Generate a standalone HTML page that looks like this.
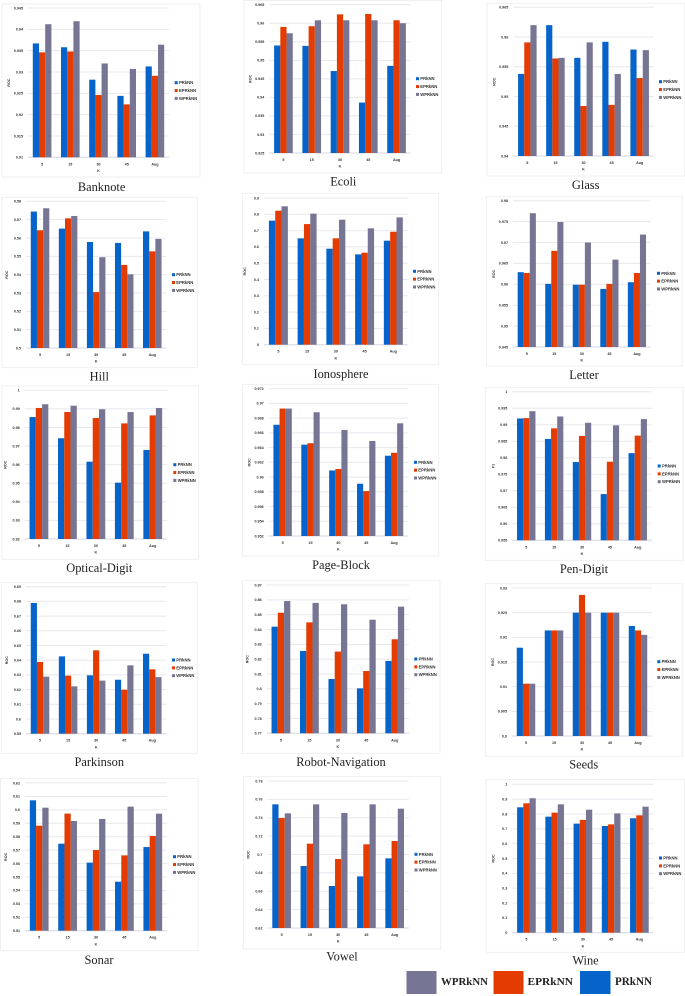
<!DOCTYPE html>
<html lang="en">
<head>
<meta charset="utf-8">
<title>Bar charts of ROC by K for 15 datasets</title>
<style>
html,body{margin:0;padding:0;background:#fff;width:685px;height:996px;overflow:hidden}
#figure{display:block;filter:blur(0.35px)}
</style>
</head>
<body>
<svg id="figure" xmlns="http://www.w3.org/2000/svg" width="685" height="996" viewBox="0 0 685 996">
  <g>
    <rect x="406.5" y="971" width="30" height="23" fill="#767593"/>
    <text x="441" y="985" font-family="'Liberation Serif',serif" font-weight="700" font-size="11" textLength="47" lengthAdjust="spacingAndGlyphs" fill="#222">WPRkNN</text>
    <rect x="493.5" y="971" width="30" height="23" fill="#e33b00"/>
    <text x="527.5" y="985" font-family="'Liberation Serif',serif" font-weight="700" font-size="11" textLength="45.5" lengthAdjust="spacingAndGlyphs" fill="#222">EPRkNN</text>
    <rect x="580" y="971" width="30.5" height="23" fill="#0563c9"/>
    <text x="615" y="985" font-family="'Liberation Serif',serif" font-weight="700" font-size="12" textLength="37" lengthAdjust="spacingAndGlyphs" fill="#222">PRkNN</text>
  </g>
</svg>
<script>
const categories = ['5', '15', '30', '45', 'Aug'];
const seriesNames = ['PRkNN', 'EPRkNN', 'WPRkNN'];

const banknoteTicks = ['0.945', '0.94', '0.935', '0.93', '0.925', '0.92', '0.915', '0.91'];
const banknotePR = [0.9367, 0.9358, 0.9282, 0.9244, 0.9313];
const banknoteEP = [0.9346, 0.9348, 0.9246, 0.9224, 0.9291];
const banknoteWP = [0.9412, 0.9419, 0.9320, 0.9307, 0.9364];

const ecoliTicks = ['0.965', '0.96', '0.955', '0.95', '0.945', '0.94', '0.935', '0.93', '0.925'];
const ecoliPR = [0.9540, 0.9539, 0.9471, 0.9386, 0.9485];
const ecoliEP = [0.9590, 0.9592, 0.9624, 0.9625, 0.9608];
const ecoliWP = [0.9573, 0.9608, 0.9608, 0.9608, 0.9600];

const glassTicks = ['0.965', '0.96', '0.955', '0.95', '0.945', '0.94'];
const glassPR = [0.9538, 0.9620, 0.9565, 0.9592, 0.9579];
const glassEP = [0.9591, 0.9564, 0.9484, 0.9486, 0.9531];
const glassWP = [0.9620, 0.9565, 0.9591, 0.9538, 0.9578];

const hillTicks = ['0.58', '0.57', '0.56', '0.55', '0.54', '0.53', '0.52', '0.51', '0.5'];
const hillPR = [0.5744, 0.5651, 0.5578, 0.5573, 0.5636];
const hillEP = [0.5642, 0.5707, 0.5305, 0.5453, 0.5527];
const hillWP = [0.5762, 0.5720, 0.5495, 0.5402, 0.5595];

const ionosphereTicks = ['0.9', '0.8', '0.7', '0.6', '0.5', '0.4', '0.3', '0.2', '0.1', '0'];
const ionospherePR = [0.761, 0.6525, 0.589, 0.554, 0.638];
const ionosphereEP = [0.822, 0.74, 0.6525, 0.5645, 0.693];
const ionosphereWP = [0.849, 0.804, 0.767, 0.714, 0.781];

const letterTicks = ['0.98', '0.975', '0.97', '0.965', '0.96', '0.955', '0.95', '0.945'];
const letterPR = [0.9629, 0.9601, 0.9599, 0.9589, 0.9605];
const letterEP = [0.9627, 0.9680, 0.9599, 0.9601, 0.9627];
const letterWP = [0.9770, 0.9749, 0.9700, 0.9659, 0.9719];

const opticalTicks = ['1', '0.99', '0.98', '0.97', '0.96', '0.95', '0.94', '0.93', '0.92'];
const opticalPR = [0.9856, 0.9742, 0.9616, 0.9503, 0.9679];
const opticalEP = [0.9905, 0.9883, 0.9851, 0.9822, 0.9865];
const opticalWP = [0.9925, 0.9917, 0.9898, 0.9883, 0.9905];

const pageBlockTicks = ['0.972', '0.97', '0.968', '0.966', '0.964', '0.962', '0.96', '0.958', '0.956', '0.954', '0.952'];
const pageBlockPR = [0.9671, 0.9644, 0.9609, 0.9591, 0.9629];
const pageBlockEP = [0.9693, 0.9646, 0.9611, 0.9581, 0.9633];
const pageBlockWP = [0.9693, 0.9688, 0.9664, 0.9649, 0.9673];

const penDigitTicks = ['1', '0.995', '0.99', '0.985', '0.98', '0.975', '0.97', '0.965', '0.96', '0.955'];
const penDigitPR = [0.9919, 0.9857, 0.9787, 0.9690, 0.9814];
const penDigitEP = [0.9920, 0.9889, 0.9866, 0.9788, 0.9867];
const penDigitWP = [0.9941, 0.9925, 0.9906, 0.9898, 0.9917];

const parkinsonTicks = ['0.69', '0.68', '0.67', '0.66', '0.65', '0.64', '0.63', '0.62', '0.61', '0.6', '0.59'];
const parkinsonPR = [0.6789, 0.6426, 0.6297, 0.6267, 0.6444];
const parkinsonEP = [0.6388, 0.6295, 0.6467, 0.6199, 0.6338];
const parkinsonWP = [0.6288, 0.6222, 0.6261, 0.6365, 0.6285];

const robotTicks = ['0.87', '0.86', '0.85', '0.84', '0.83', '0.82', '0.81', '0.8', '0.79', '0.78', '0.77'];
const robotPR = [0.8419, 0.8255, 0.8066, 0.8003, 0.8188];
const robotEP = [0.8513, 0.8448, 0.8251, 0.8120, 0.8334];
const robotWP = [0.8592, 0.8579, 0.8570, 0.8466, 0.8554];

const seedsTicks = ['0.93', '0.925', '0.92', '0.915', '0.91', '0.905', '0.9'];
const seedsPR = [0.9179, 0.9214, 0.9250, 0.9250, 0.9223];
const seedsEP = [0.9106, 0.9214, 0.9286, 0.9250, 0.9214];
const seedsWP = [0.9106, 0.9214, 0.9250, 0.9250, 0.9205];

const sonarTicks = ['0.62', '0.61', '0.6', '0.59', '0.58', '0.57', '0.56', '0.55', '0.54', '0.53', '0.52', '0.51'];
const sonarPR = [0.6071, 0.5748, 0.5607, 0.5465, 0.5723];
const sonarEP = [0.5882, 0.5972, 0.5701, 0.5661, 0.5805];
const sonarWP = [0.6016, 0.5917, 0.5932, 0.6024, 0.5972];

const vowelTicks = ['0.78', '0.76', '0.74', '0.72', '0.7', '0.68', '0.66', '0.64', '0.62'];
const vowelPR = [0.7546, 0.6875, 0.6657, 0.6762, 0.6958];
const vowelEP = [0.7397, 0.7118, 0.6951, 0.7111, 0.7147];
const vowelWP = [0.7448, 0.7546, 0.7452, 0.7546, 0.7499];

const wineTicks = ['1', '0.9', '0.8', '0.7', '0.6', '0.5', '0.4', '0.3', '0.2', '0.1', '0'];
const winePR = [0.845, 0.782, 0.735, 0.719, 0.771];
const wineEP = [0.872, 0.809, 0.76, 0.73, 0.791];
const wineWP = [0.906, 0.865, 0.829, 0.804, 0.849];

const seriesColors = ['#0563c9', '#e33b00', '#767593'];

const panels = [
  {name: 'Banknote', ticks: banknoteTicks, series: [banknotePR, banknoteEP, banknoteWP], yTitle: 'ROC', frame: [2, 4, 200, 177], plot: [28, 169, 8, 157.3], legend: [174.7, 82.7], title: [101.6, 191]},
  {name: 'Ecoli', ticks: ecoliTicks, series: [ecoliPR, ecoliEP, ecoliWP], yTitle: 'ROC', frame: [244, 0.5, 441.7, 173], plot: [269.3, 410.7, 4.7, 153], legend: [416, 78.7], title: [343.3, 185.5]},
  {name: 'Glass', ticks: glassTicks, series: [glassPR, glassEP, glassWP], yTitle: 'ROC', frame: [487, 3.3, 684.7, 176], plot: [513.3, 653.7, 7.3, 156], legend: [659, 81.7], title: [585.7, 189]},
  {name: 'Hill', ticks: hillTicks, series: [hillPR, hillEP, hillWP], yTitle: 'ROC', frame: [2, 197.3, 197.3, 367.7], plot: [26, 166.3, 201.3, 348], legend: [172, 274.7], title: [99.3, 380.5]},
  {name: 'Ionosphere', ticks: ionosphereTicks, series: [ionospherePR, ionosphereEP, ionosphereWP], yTitle: 'ROC', frame: [242.3, 193.3, 438.7, 364.7], plot: [264, 407.7, 198, 344.7], legend: [413, 271.3], title: [341, 378]},
  {name: 'Letter', ticks: letterTicks, series: [letterPR, letterEP, letterWP], yTitle: 'ROC', frame: [486.3, 196.7, 682, 366], plot: [513, 650.7, 200.7, 347], legend: [657, 273.3], title: [584, 379]},
  {name: 'Optical-Digit', ticks: opticalTicks, series: [opticalPR, opticalEP, opticalWP], yTitle: 'ROC', frame: [2, 386, 198.7, 559.3], plot: [24.7, 167, 390.3, 539], legend: [173.3, 464.7], title: [99.3, 572]},
  {name: 'Page-Block', ticks: pageBlockTicks, series: [pageBlockPR, pageBlockEP, pageBlockWP], yTitle: 'ROC', frame: [242.3, 384.3, 438.7, 556], plot: [268.7, 408, 388.7, 536], legend: [414, 462.3], title: [341, 569]},
  {name: 'Pen-Digit', ticks: penDigitTicks, series: [penDigitPR, penDigitEP, penDigitWP], yTitle: 'F1', frame: [485.3, 387.3, 683, 560.3], plot: [512.3, 651.7, 391.7, 540.3], legend: [657.7, 466], title: [584, 573]},
  {name: 'Parkinson', ticks: parkinsonTicks, series: [parkinsonPR, parkinsonEP, parkinsonWP], yTitle: 'ROC', frame: [1.7, 582.7, 197.3, 753.3], plot: [26, 166.3, 586.7, 733.7], legend: [172, 660], title: [99.3, 766]},
  {name: 'Robot-Navigation', ticks: robotTicks, series: [robotPR, robotEP, robotWP], yTitle: 'ROC', frame: [242.3, 580.3, 440, 753.3], plot: [266.7, 409, 585, 733.3], legend: [414.3, 659], title: [341, 766]},
  {name: 'Seeds', ticks: seedsTicks, series: [seedsPR, seedsEP, seedsWP], yTitle: 'ROC', frame: [485.3, 583.7, 682.7, 756.3], plot: [512, 652, 588, 736], legend: [657.3, 661.7], title: [583.7, 768.5]},
  {name: 'Sonar', ticks: sonarTicks, series: [sonarPR, sonarEP, sonarWP], yTitle: 'ROC', frame: [0.5, 778.3, 198, 950.7], plot: [25, 167, 783, 930.7], legend: [173, 856.7], title: [99, 964]},
  {name: 'Vowel', ticks: vowelTicks, series: [vowelPR, vowelEP, vowelWP], yTitle: 'ROC', frame: [243.4, 776.7, 440.8, 949], plot: [267.5, 408.8, 781, 928], legend: [414.5, 854.3], title: [342, 960.5]},
  {name: 'Wine', ticks: wineTicks, series: [winePR, wineEP, wineWP], yTitle: 'ROC', frame: [486, 779.3, 684.5, 952.3], plot: [512.3, 653.5, 784.3, 932.7], legend: [659, 858], title: [585.5, 964.5]}
];

const SVG_NS = 'http://www.w3.org/2000/svg';
const figure = document.getElementById('figure');
const SANS = "'Liberation Sans',sans-serif";
const LABEL_INK = '#333';

function make(parent, tag) {
  const node = document.createElementNS(SVG_NS, tag);
  parent.appendChild(node);
  return node;
}

function setAll(node, props) {
  for (const key in props) node.setAttribute(key, props[key]);
}

function slug(text) {
  return text.toLowerCase().replace(/[^a-z0-9]+/g, '-');
}

function drawPanel(panel) {
  const id = slug(panel.name);
  const [left, right, top, bottom] = panel.plot;
  const tickValues = panel.ticks.map(Number);
  const axisMax = Math.max(...tickValues);
  const axisMin = Math.min(...tickValues);
  const yScale = v => bottom - (v - axisMin) / (axisMax - axisMin) * (bottom - top);
  const bandWidth = (right - left) / categories.length;
  const barWidth = bandWidth * 0.22;
  const xBand = i => left + bandWidth * i;

  const g = make(figure, 'g');
  
  

  const frame = make(g, 'rect');
  
  
  setAll(frame, {x: panel.frame[0], y: panel.frame[1], width: panel.frame[2] - panel.frame[0], height: panel.frame[3] - panel.frame[1], fill: '#fff', stroke: '#ececec', 'stroke-width': 0.8});

  panel.ticks.forEach((label, i) => {
    const y = yScale(tickValues[i]);
    const line = make(g, 'line');
    
    
    setAll(line, {x1: left, x2: right, y1: y, y2: y, stroke: i === panel.ticks.length - 1 ? '#d6d6e0' : '#e8e8ed', 'stroke-width': 1});

    const text = make(g, 'text');
    
    
    setAll(text, {x: left - 5, y: y + 1.3, 'text-anchor': 'end', 'font-family': SANS, 'font-size': 3.7, 'font-weight': 700, fill: LABEL_INK});
    text.textContent = label;
  });

  categories.forEach((cat, c) => {
    panel.series.forEach((values, s) => {
      const bar = make(g, 'rect');
      
      
      const x = xBand(c) + (bandWidth - barWidth * 3) / 2 + barWidth * s;
      const y = yScale(values[c]);
      setAll(bar, {x: x, y: y, width: barWidth, height: bottom - y, fill: seriesColors[s]});
    });

    const label = make(g, 'text');
    
    
    setAll(label, {x: xBand(c) + bandWidth / 2, y: bottom + 8, 'text-anchor': 'middle', 'font-family': SANS, 'font-size': 3.7, 'font-weight': 700, fill: LABEL_INK});
    label.textContent = cat;
  });

  const xTitle = make(g, 'text');
  
  
  setAll(xTitle, {x: (left + right) / 2, y: bottom + 14.7, 'text-anchor': 'middle', 'font-family': SANS, 'font-size': 3.7, 'font-weight': 700, fill: LABEL_INK});
  xTitle.textContent = 'K';

  const yTitle = make(g, 'text');
  
  
  const yTitleX = left - 18;
  const yTitleY = (top + bottom) / 2;
  setAll(yTitle, {x: yTitleX, y: yTitleY, 'text-anchor': 'middle', transform: 'rotate(-90 ' + yTitleX + ' ' + yTitleY + ')', 'font-family': SANS, 'font-size': 3.7, 'font-weight': 700, fill: LABEL_INK});
  yTitle.textContent = panel.yTitle;

  seriesNames.forEach((name, s) => {
    const ly = panel.legend[1] + 7.85 * s;
    const swatch = make(g, 'rect');
    
    
    setAll(swatch, {x: panel.legend[0], y: ly - 1.5, width: 3, height: 3, fill: seriesColors[s]});

    const entry = make(g, 'text');
    
    
    setAll(entry, {x: panel.legend[0] + 4.3, y: ly + 1.5, 'font-family': SANS, 'font-size': 4.2, 'font-weight': 700, fill: LABEL_INK});
    entry.textContent = name;
  });

  const title = make(g, 'text');
  
  
  setAll(title, {x: panel.title[0], y: panel.title[1], 'text-anchor': 'middle', 'font-family': "'Liberation Serif',serif", 'font-size': 12.4, fill: '#222'});
  title.textContent = panel.name;
}

panels.forEach(drawPanel);
</script>
</body>
</html>
